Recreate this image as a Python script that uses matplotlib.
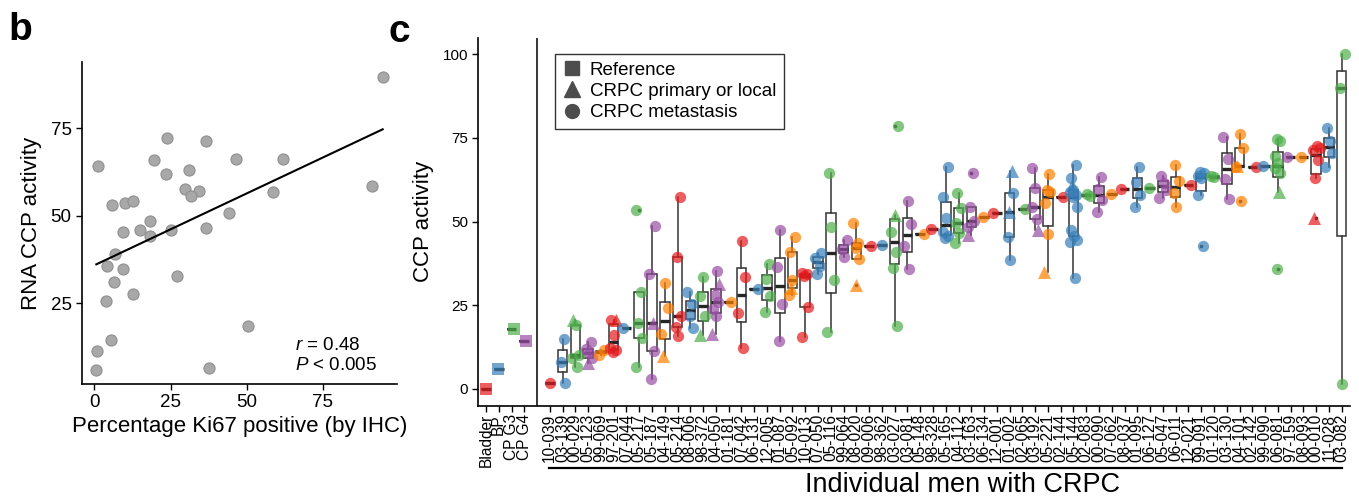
import matplotlib
matplotlib.use('Agg')
import matplotlib.pyplot as plt
import matplotlib.transforms as mtransforms
from matplotlib.lines import Line2D
import numpy as np

plt.rcParams['font.family'] = ['Liberation Sans', 'DejaVu Sans']
plt.rcParams['mathtext.fontset'] = 'custom'
plt.rcParams['mathtext.it'] = 'Liberation Sans:italic'
plt.rcParams['mathtext.rm'] = 'Liberation Sans'

# ---------------- Panel b data ----------------
ki67 = [94.6, 1.1, 23.8, 36.7, 19.4, 46.6, 61.8, 23.5, 30.9, 29.6, 34.3, 31.6,
        58.6, 91.0, 5.8, 9.9, 12.7, 44.1, 18.3, 9.3, 14.9, 18.3, 25.2, 36.5,
        6.7, 4.0, 9.2, 6.4, 27.0, 12.8, 3.8, 50.4, 5.5, 0.8, 0.6, 37.5]
rna_ccp = [89.8, 64.3, 72.4, 71.3, 66.0, 66.3, 66.2, 61.9, 63.2, 57.7, 57.2, 55.7,
           56.9, 58.5, 53.0, 53.8, 54.1, 50.9, 48.6, 45.4, 45.9, 44.3, 45.9, 46.6,
           39.0, 35.6, 34.8, 31.2, 32.8, 27.5, 25.7, 18.5, 14.4, 11.4, 6.0, 6.4]
b_xticks = [0, 25, 50, 75]
b_yticks = [25, 50, 75]

# ---------------- Panel c data ----------------
ref_labels = ['Bladder', 'BP', 'CP G3', 'CP G4']
ref_values = [0.1, 6.1, 17.8, 14.3]

patients = ['10-039', '03-139', '00-029', '05-123', '99-069', '97-201', '07-044',
            '05-217', '05-187', '04-149', '05-214', '08-006', '98-372', '04-050',
            '01-181', '07-042', '06-131', '12-005', '01-087', '05-092', '10-013',
            '07-050', '05-116', '99-064', '08-020', '09-006', '98-362', '03-027',
            '03-081', '05-148', '98-328', '05-165', '04-112', '03-163', '06-134',
            '12-001', '01-002', '02-065', '03-192', '05-221', '02-144', '05-144',
            '02-083', '00-090', '07-062', '08-037', '01-095', '06-127', '05-047',
            '06-011', '12-021', '99-091', '01-120', '03-130', '04-101', '02-142',
            '99-090', '06-081', '97-159', '08-093', '00-010', '11-028', '03-082']

# CRPC metastasis samples (circles)
metastasis = [
    [1.7], [1.7, 8.2, 14.9], [6.7, 9.3, 10.2, 19.1], [9.2, 10.7, 11.8, 14.1],
    [10.3, 11.7], [11.1, 11.6, 12.1, 16.1, 20.6], [18.2],
    [6.7, 15.3, 19.6, 29.1, 53.5], [3.0, 11.2, 34.4, 48.8], [16.5, 24.1, 31.6],
    [15.8, 18.6, 21.8, 39.5, 57.3], [18.3, 21.8, 25.4, 29.1], [21.7, 27.7, 33.4],
    [21.8, 23.8, 26.1, 28.1, 35.2], [26.1], [12.2, 22.7, 33.6, 44.3], [29.8],
    [22.9, 27.8, 32.8, 37.3], [14.4, 25.3, 36.4, 47.5], [28.1, 32.7, 41.0, 45.5],
    [15.6, 24.6, 33.8, 34.4, 34.8], [34.4, 36.7, 39.0, 40.7], [16.9, 32.5, 48.5, 64.6],
    [39.5, 41.7, 44.5], [38.7, 42.0, 43.7, 49.5], [42.7], [43.0],
    [18.9, 36.1, 41.0, 47.0, 78.7], [35.9, 42.7, 49.3, 56.2], [46.2], [47.8],
    [45.0, 45.8, 47.0, 51.0, 57.5, 66.4], [43.5, 46.5, 49.5, 54.0, 58.7],
    [48.5, 50.3, 54.5, 64.6], [51.3], [52.5], [38.5, 45.5, 58.7], [53.7],
    [50.7, 54.3, 60.0, 65.9], [46.3, 55.7, 58.9, 59.5, 64.1], [57.3],
    [33.1, 44.0, 44.5, 45.7, 47.5, 54.3, 57.3, 58.0, 59.0, 59.5, 63.0, 66.9],
    [57.8, 58.2], [52.8, 56.4, 59.7, 63.4], [58.3], [59.7], [54.3, 57.9, 61.9, 66.4],
    [60.2], [57.2, 59.6, 61.5, 63.6], [54.5, 58.5, 62.2, 66.9], [61.0],
    [42.7, 58.0, 63.0, 63.6, 64.4, 64.9], [63.2, 63.6], [56.9, 62.8, 68.8, 75.2],
    [56.3, 66.4, 71.9, 76.1], [66.4], [66.6], [35.8, 64.6, 66.0, 67.5, 69.6, 74.2, 74.7],
    [69.2], [69.4], [63.0, 68.4, 71.4, 72.0, 72.6], [66.4, 70.4, 74.2, 77.9],
    [1.4, 90.0, 100.1]]

# CRPC primary or local samples (triangles)
primary = [
    [], [], [20.6], [7.7], [], [20.6], [], [], [19.8], [10.0], [], [], [16.1],
    [16.4, 31.4], [], [], [], [], [], [30.1], [], [], [], [], [31.1], [], [],
    [52.0], [], [], [], [], [], [46.0], [], [], [52.8, 65.2], [], [47.5], [35.1], [],
    [61.0], [], [], [], [], [], [], [], [], [], [], [], [], [66.6], [], [], [59.0],
    [], [], [51.0], [], []]

palette = ['#E41A1C', '#377EB8', '#4DAF4A', '#984EA3', '#FF7F00']
jitter = [0.0, -0.22, 0.2, -0.1, 0.12, -0.27, 0.27, 0.05, -0.16, 0.24, -0.05, 0.16, -0.25]

W, H = 1359, 499
fig = plt.figure(figsize=(W / 100, H / 100), dpi=100)

# ================= Panel b =================
axb = fig.add_axes([82 / W, 1 - 384 / H, (397 - 82) / W, (384 - 62) / H])
axb.scatter(ki67, rna_ccp, s=64, facecolor='#A8A8A8', edgecolor='#909090',
            linewidth=0.8, zorder=3)
slope, intercept = np.polyfit(ki67, rna_ccp, 1)
xl = np.array([min(ki67), max(ki67)])
axb.plot(xl, intercept + slope * xl, color='black', lw=1.5, zorder=4)
axb.set_xlim(-4.1, 99.3)
axb.set_ylim(1.9, 94.0)
axb.set_xticks(b_xticks)
axb.set_yticks(b_yticks)
for s in ['top', 'right']:
    axb.spines[s].set_visible(False)
for s in ['left', 'bottom']:
    axb.spines[s].set_linewidth(1.2)
axb.tick_params(labelsize=13.5, length=4, width=1.0, colors='black')
axb.set_xlabel('Percentage Ki67 positive (by IHC)', fontsize=16, labelpad=3)
axb.set_ylabel('RNA CCP activity', fontsize=16, labelpad=6)
axb.text(65.8, 11.7, r'$r$ = 0.48', fontsize=13.5, ha='left', va='baseline')
axb.text(65.8, 6.0, r'$P$ < 0.005', fontsize=13.5, ha='left', va='baseline')

# ================= Panel c =================
axc = fig.add_axes([478.3 / W, 1 - 405.7 / H, 871.7 / W, 368.1 / H])
ref_pos = list(range(len(ref_labels)))
pat_pos = [5 + j for j in range(len(patients))]
box_data = [[v] for v in ref_values] + [sorted(c + t) for c, t in zip(metastasis, primary)]
axc.boxplot(box_data, positions=ref_pos + pat_pos, widths=0.75, whis=1.5,
            showcaps=False, patch_artist=True, manage_ticks=False,
            boxprops=dict(facecolor='white', edgecolor='#333333', linewidth=1.1),
            whiskerprops=dict(color='#333333', linewidth=1.1),
            medianprops=dict(color='#262626', linewidth=2.4),
            flierprops=dict(marker='o', markersize=1.6, markerfacecolor='#333333',
                            markeredgecolor='#333333'),
            zorder=2)

for i, v in enumerate(ref_values):
    axc.scatter([ref_pos[i] + jitter[(i * 3) % len(jitter)] * 0.6], [v], marker='s', s=80,
                color=palette[i % 5], alpha=0.7, linewidths=0, zorder=3)

for j, (cv, tv) in enumerate(zip(metastasis, primary)):
    col = palette[j % 5]
    k = j * 2
    xs, ys = [], []
    for v in cv:
        xs.append(pat_pos[j] + jitter[k % len(jitter)])
        ys.append(v)
        k += 1
    axc.scatter(xs, ys, marker='o', s=66, color=col, alpha=0.7, linewidths=0, zorder=3)
    xs, ys = [], []
    for v in tv:
        xs.append(pat_pos[j] + jitter[k % len(jitter)])
        ys.append(v)
        k += 1
    if xs:
        axc.scatter(xs, ys, marker='^', s=88, color=col, alpha=0.7, linewidths=0, zorder=3)

axc.axvline(4.0, color='black', lw=1.1, zorder=1)
axc.set_xlim(-0.6, 67.65)
axc.set_ylim(-5, 105)
axc.set_yticks([0, 25, 50, 75, 100])
axc.set_xticks(ref_pos + pat_pos)
axc.set_xticklabels(ref_labels + patients, rotation=90, fontsize=11.2)
for s in ['top', 'right']:
    axc.spines[s].set_visible(False)
for s in ['left', 'bottom']:
    axc.spines[s].set_linewidth(1.2)
axc.tick_params(axis='y', labelsize=11, length=4, width=1.0, colors='black')
axc.tick_params(axis='x', length=4, width=1.0, colors='black', pad=2)
axc.set_ylabel('CCP activity', fontsize=16, labelpad=6)

trans = mtransforms.blended_transform_factory(axc.transData, axc.transAxes)
axc.plot([pat_pos[0] - 0.1, pat_pos[-1]], [-0.169, -0.169], transform=trans,
         color='black', lw=1.6, clip_on=False)
axc.text(0.555, -0.2345, 'Individual men with CRPC', transform=axc.transAxes,
         fontsize=19.5, ha='center', va='baseline')

handles = [Line2D([], [], ls='none', marker='s', ms=10, color='#4D4D4D'),
           Line2D([], [], ls='none', marker='^', ms=11, color='#4D4D4D'),
           Line2D([], [], ls='none', marker='o', ms=10, color='#4D4D4D')]
leg = axc.legend(handles, ['Reference', 'CRPC primary or local', 'CRPC metastasis'],
                 loc='upper left', bbox_to_anchor=(0.088, 0.955), fontsize=13.5,
                 frameon=True, fancybox=False, borderpad=0.4, labelspacing=0.22,
                 handletextpad=0.45, handlelength=1.0, borderaxespad=0.0)
leg.get_frame().set_edgecolor('black')
leg.get_frame().set_linewidth(1.0)

fig.text(8 / W, 1 - 40 / H, 'b', fontsize=28, fontweight='bold', va='baseline')
fig.text(388 / W, 1 - 42 / H, 'c', fontsize=28, fontweight='bold', va='baseline')

fig.savefig('out.png', dpi=100)
